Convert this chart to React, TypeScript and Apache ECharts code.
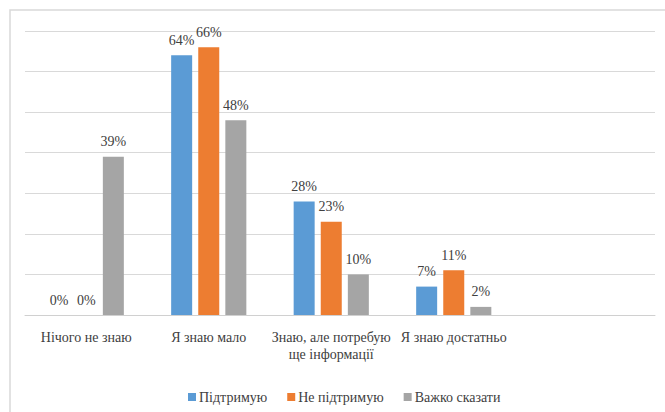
import React, { useEffect, useRef } from "react";
import * as echarts from "echarts";

const categories = ["Нічого не знаю", "Я знаю мало", "Знаю, але потребую ще інформації", "Я знаю достатньо"];
const seriesNames = ["Підтримую", "Не підтримую", "Важко сказати"];
const support = [0, 64, 28, 7];
const notSupport = [0, 66, 23, 11];
const hardToSay = [39, 48, 10, 2];
const colors = ["#5B9BD5", "#ED7D31", "#A5A5A5"];

const FONT = "'Liberation Serif', 'Times New Roman', serif";
const TEXT = "#404040";

export default function App() {
  const ref = useRef<HTMLDivElement>(null);
  useEffect(() => {
    if (!ref.current) return;
    const chart = echarts.init(ref.current, undefined, { renderer: "svg" });
    const values = [support, notSupport, hardToSay];
    chart.setOption({
      animation: false,
      backgroundColor: "#ffffff",
      textStyle: { fontFamily: FONT },
      graphic: [
        {
          type: "rect",
          shape: { x: 10, y: 10, width: 720, height: 500 },
          style: { fill: "none", stroke: "#d9d9d9", lineWidth: 1.5 },
          silent: true,
          z: -1,
        },
      ],
      legend: {
        data: seriesNames,
        left: 183,
        top: 385,
        itemWidth: 8,
        itemHeight: 8,
        itemGap: 20,
        icon: "rect",
        textStyle: { fontFamily: FONT, fontSize: 14, color: TEXT, padding: [0, 0, 0, -2] },
      },
      grid: [
        { left: 25, right: 10, top: 31, bottom: 97 },
        { left: 25, width: 490, top: 31, bottom: 97 },
      ],
      xAxis: [
        {
          type: "category",
          gridIndex: 0,
          data: [""],
          axisLine: { show: true, lineStyle: { color: "#d0d0d0", width: 1 } },
          axisTick: { show: false },
          axisLabel: { show: false },
        },
        {
          type: "category",
          gridIndex: 1,
          data: categories,
          axisLine: { show: false },
          axisTick: { show: false },
          axisLabel: {
            interval: 0,
            margin: 14,
            fontFamily: FONT,
            fontSize: 14,
            color: TEXT,
            lineHeight: 17,
            formatter: (v: string) => v.replace("потребую ", "потребую\n"),
          },
        },
      ],
      yAxis: [
        {
          type: "value",
          gridIndex: 0,
          min: 0,
          max: 70,
          interval: 10,
          axisLine: { show: false },
          axisTick: { show: false },
          axisLabel: { show: false },
          splitLine: { lineStyle: { color: "#d9d9d9", width: 1 } },
        },
        {
          type: "value",
          gridIndex: 1,
          min: 0,
          max: 70,
          interval: 10,
          axisLine: { show: false },
          axisTick: { show: false },
          axisLabel: { show: false },
          splitLine: { show: false },
        },
      ],
      series: seriesNames.map((name, i) => ({
        name,
        type: "bar",
        xAxisIndex: 1,
        yAxisIndex: 1,
        data: values[i],
        barWidth: 21,
        barGap: "29%",
        itemStyle: { color: colors[i] },
        label: {
          show: true,
          position: "top",
          distance: 8,
          formatter: "{c}%",
          fontFamily: FONT,
          fontSize: 14,
          color: TEXT,
        },
      })),
    });
    return () => chart.dispose();
  }, []);
  return <div ref={ref} style={{ position: "fixed", left: 0, top: 0, width: 665, height: 412 }} />;
}
